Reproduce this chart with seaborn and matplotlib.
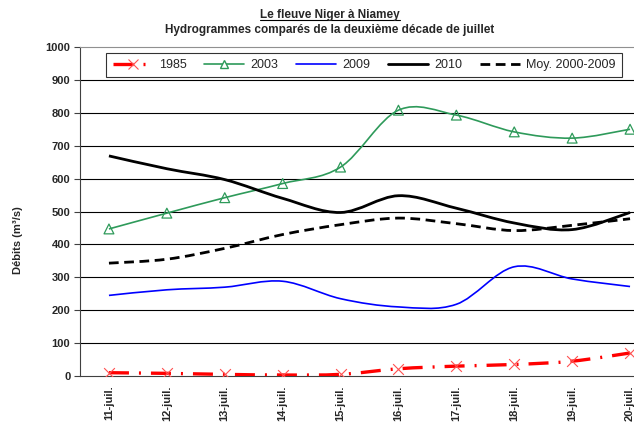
import numpy as np
import matplotlib
matplotlib.use("Agg")
import matplotlib.pyplot as plt
import seaborn as sns
from matplotlib.path import Path
from matplotlib.patches import PathPatch
from matplotlib.lines import Line2D

# === Data === #
days = ["11-juil.", "12-juil.", "13-juil.", "14-juil.", "15-juil.",
        "16-juil.", "17-juil.", "18-juil.", "19-juil.", "20-juil."]
q_1985 = [10, 8, 5, 3, 5, 22, 30, 35, 45, 70]
q_2003 = [447, 495, 542, 585, 635, 808, 793, 742, 723, 750]
q_2009 = [245, 262, 270, 288, 235, 210, 218, 332, 295, 272]
q_2010 = [669, 630, 597, 540, 497, 548, 510, 465, 445, 497]
q_moy = [343, 355, 388, 430, 460, 480, 463, 442, 458, 478]

sns.set_style("white")
plt.rcParams["font.family"] = ["Liberation Sans", "DejaVu Sans"]


def smooth_path(x, y):
    # Excel-like smoothed line (cubic Bezier through the points)
    pts = np.column_stack([x, y]).astype(float)
    ext = np.vstack([pts[0], pts, pts[-1]])
    verts = [pts[0]]
    codes = [Path.MOVETO]
    for i in range(len(pts) - 1):
        p0, p1, p2, p3 = ext[i], ext[i + 1], ext[i + 2], ext[i + 3]
        verts += [p1 + (p2 - p0) / 6, p2 - (p3 - p1) / 6, p2]
        codes += [Path.CURVE4] * 3
    return Path(verts, codes)


fig = plt.figure(figsize=(6.34, 4.25), dpi=100)
ax = fig.add_axes([80 / 634, 49 / 425, 579 / 634, 329 / 425])
pos = np.arange(len(days))

green = "#2e9a5a"
series = [
    (q_1985, "1985", "red", 2.4, (0, (6, 3, 0.6, 3))),
    (q_2003, "2003", green, 1.2, "-"),
    (q_2009, "2009", "blue", 1.2, "-"),
    (q_2010, "2010", "black", 2.0, "-"),
    (q_moy, "Moy. 2000-2009", "black", 2.0, (0, (3.5, 2))),
]
for vals, name, col, lw, ls in series:
    ax.add_patch(PathPatch(smooth_path(pos, vals), fill=False, edgecolor=col,
                           linewidth=lw, linestyle=ls, zorder=3, capstyle="butt"))

sns.scatterplot(x=pos, y=q_2003, marker="^", s=50, facecolor="none",
                edgecolor=green, linewidth=0.9, ax=ax, zorder=4)
sns.scatterplot(x=pos, y=q_1985, marker="x", s=60, color="#ff5050",
                linewidth=0.8, ax=ax, zorder=4)

ax.set_xlim(-0.5, 9.5)
ax.set_ylim(0, 1000)
ax.set_yticks(range(0, 1001, 100))
ax.set_yticklabels([str(v) for v in range(0, 1001, 100)], fontsize=8, fontweight="bold")
ax.set_xticks(pos)
ax.set_xticklabels(days, rotation=90, fontsize=8, fontweight="bold")
ax.set_xticks(np.arange(-0.5, 10, 1), minor=True)
ax.tick_params(axis="x", which="major", length=0, pad=7)
ax.tick_params(axis="x", which="minor", length=4, width=0.8, direction="out", color="#404040")
ax.tick_params(axis="y", length=4, width=0.8, direction="out", color="#404040", pad=3, left=True)

ax.yaxis.grid(True, color="black", linewidth=0.8)
ax.yaxis.get_gridlines()[-1].set_visible(False)
ax.yaxis.get_gridlines()[0].set_visible(False)
ax.set_axisbelow(True)
ax.spines["right"].set_visible(False)
ax.spines["top"].set_color("#909090")
ax.spines["left"].set_color("#404040")
ax.spines["bottom"].set_color("#404040")
ax.set_xlabel("")
ax.set_ylabel("")

# legend
handles = [
    Line2D([], [], color="red", lw=2.4, ls=(0, (6, 3, 0.6, 3)), marker="x",
           markeredgecolor="#ff5050", markersize=7, markeredgewidth=0.8),
    Line2D([], [], color=green, lw=1.2, marker="^", mfc="white",
           mec=green, markersize=6),
    Line2D([], [], color="blue", lw=1.2),
    Line2D([], [], color="black", lw=2.0),
    Line2D([], [], color="black", lw=2.0, ls=(0, (3.5, 2))),
]
labels = [s[1] for s in series]
leg = fig.legend(handles, labels, loc="center", ncol=5, mode="expand",
                 bbox_to_anchor=(100 / 634, 1 - 80 / 425, 528 / 634, 30 / 425),
                 frameon=True, fancybox=False, fontsize=9, handlelength=3.2,
                 columnspacing=1.2, borderpad=0.5, handletextpad=0.5)
leg.get_frame().set_edgecolor("black")
leg.get_frame().set_linewidth(0.8)

fig.text(18 / 634, 1 - 240 / 425, "Débits (m³/s)", rotation=90, ha="center",
         va="center", fontsize=8, fontweight="bold")

t1 = fig.text(330 / 634, 1 - 15 / 425, "Le fleuve Niger à Niamey", ha="center",
              va="center", fontsize=8.5, fontweight="bold")
fig.text(330 / 634, 1 - 30 / 425, "Hydrogrammes comparés de la deuxième décade de juillet",
         ha="center", va="center", fontsize=8.5, fontweight="bold")

fig.canvas.draw()
bb = t1.get_window_extent().transformed(fig.transFigure.inverted())
fig.add_artist(Line2D([bb.x0, bb.x1], [bb.y0 + 0.002, bb.y0 + 0.002],
                      color="black", lw=0.8, transform=fig.transFigure))

fig.savefig("out.png", dpi=100)
plt.close(fig)
